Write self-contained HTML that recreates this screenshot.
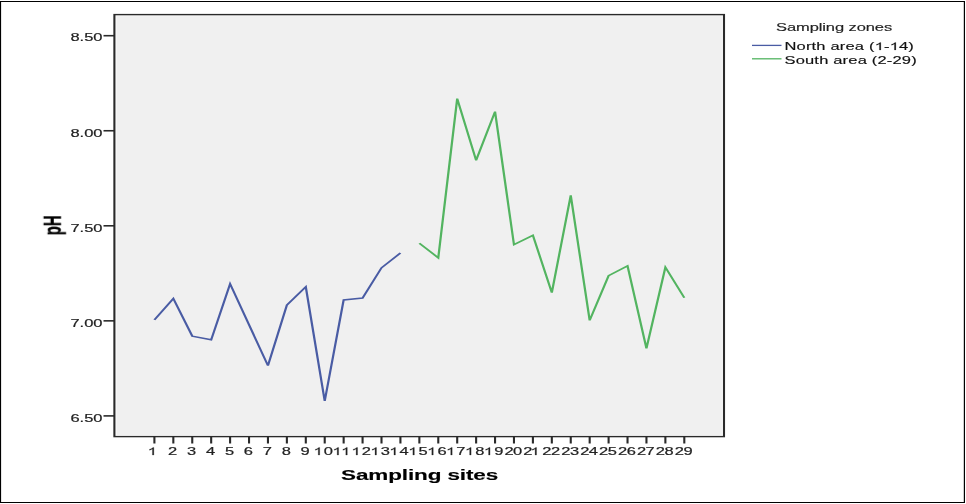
<!DOCTYPE html>
<html><head><meta charset="utf-8"><title>pH by sampling site</title>
<style>html,body{margin:0;padding:0;background:#fff;width:966px;height:504px;overflow:hidden}</style>
</head><body>
<svg width="966" height="504" viewBox="0 0 644 504" preserveAspectRatio="none" style="display:block;will-change:transform"><defs><path id="one" d="M763 0H583V1100Q518 1040 412 981Q306 922 222 892V1059Q373 1127 486 1224Q599 1321 646 1409H763Z"/><filter id="soft" x="-5%" y="-5%" width="110%" height="110%"><feGaussianBlur stdDeviation="0.3 0.45"/></filter></defs><rect x="0" y="0" width="644" height="504" fill="#fff"/><path d="M0 1.5H643.333M0 502.5H643.333" stroke="#000" stroke-width="1.15"/><path d="M0.333 1V503M642.933 1V503" stroke="#000" stroke-width="0.8"/><rect x="76.267" y="14.6" width="406.4" height="422.0" fill="#f0f0f0"/><rect x="77.167" y="15.7" width="404.59999999999997" height="419.8" fill="none" stroke="#fbfbfb" stroke-width="1"/><rect x="76.267" y="14.6" width="406.4" height="422.0" fill="none" stroke="#2a2a2a" stroke-width="1.4"/><line x1="69.0" y1="35.7" x2="76.267" y2="35.7" stroke="#2a2a2a" stroke-width="1.6"/><text x="46.924" y="41.5" font-size="11" fill="#222" stroke="#222" stroke-width="0.2" style="font-family:'Liberation Sans',sans-serif;font-kerning:none">8.50</text><line x1="69.0" y1="130.75" x2="76.267" y2="130.75" stroke="#2a2a2a" stroke-width="1.6"/><text x="46.924" y="136.55" font-size="11" fill="#222" stroke="#222" stroke-width="0.2" style="font-family:'Liberation Sans',sans-serif;font-kerning:none">8.00</text><line x1="69.0" y1="225.8" x2="76.267" y2="225.8" stroke="#2a2a2a" stroke-width="1.6"/><text x="46.924" y="231.6" font-size="11" fill="#222" stroke="#222" stroke-width="0.2" style="font-family:'Liberation Sans',sans-serif;font-kerning:none">7.50</text><line x1="69.0" y1="320.85" x2="76.267" y2="320.85" stroke="#2a2a2a" stroke-width="1.6"/><text x="46.924" y="326.65" font-size="11" fill="#222" stroke="#222" stroke-width="0.2" style="font-family:'Liberation Sans',sans-serif;font-kerning:none">7.00</text><line x1="69.0" y1="415.9" x2="76.267" y2="415.9" stroke="#2a2a2a" stroke-width="1.6"/><text x="46.924" y="421.7" font-size="11" fill="#222" stroke="#222" stroke-width="0.2" style="font-family:'Liberation Sans',sans-serif;font-kerning:none">6.50</text><line x1="102.933" y1="436.6" x2="102.933" y2="443.5" stroke="#2a2a2a" stroke-width="1.4"/><text x="99.474" y="454.6" font-size="11" fill="#222" stroke="#222" stroke-width="0.2" style="font-family:'Liberation Sans',sans-serif;font-kerning:none"> </text><use href="#one" transform="translate(98.474,455) scale(0.005371,-0.005371)" fill="#222" stroke="#222" stroke-width="37.2"/><line x1="115.55" y1="436.6" x2="115.55" y2="443.5" stroke="#2a2a2a" stroke-width="1.4"/><text x="112.091" y="454.6" font-size="11" fill="#222" stroke="#222" stroke-width="0.2" style="font-family:'Liberation Sans',sans-serif;font-kerning:none">2</text><line x1="128.167" y1="436.6" x2="128.167" y2="443.5" stroke="#2a2a2a" stroke-width="1.4"/><text x="124.708" y="454.6" font-size="11" fill="#222" stroke="#222" stroke-width="0.2" style="font-family:'Liberation Sans',sans-serif;font-kerning:none">3</text><line x1="140.783" y1="436.6" x2="140.783" y2="443.5" stroke="#2a2a2a" stroke-width="1.4"/><text x="137.324" y="454.6" font-size="11" fill="#222" stroke="#222" stroke-width="0.2" style="font-family:'Liberation Sans',sans-serif;font-kerning:none">4</text><line x1="153.4" y1="436.6" x2="153.4" y2="443.5" stroke="#2a2a2a" stroke-width="1.4"/><text x="149.941" y="454.6" font-size="11" fill="#222" stroke="#222" stroke-width="0.2" style="font-family:'Liberation Sans',sans-serif;font-kerning:none">5</text><line x1="166.017" y1="436.6" x2="166.017" y2="443.5" stroke="#2a2a2a" stroke-width="1.4"/><text x="162.558" y="454.6" font-size="11" fill="#222" stroke="#222" stroke-width="0.2" style="font-family:'Liberation Sans',sans-serif;font-kerning:none">6</text><line x1="178.633" y1="436.6" x2="178.633" y2="443.5" stroke="#2a2a2a" stroke-width="1.4"/><text x="175.174" y="454.6" font-size="11" fill="#222" stroke="#222" stroke-width="0.2" style="font-family:'Liberation Sans',sans-serif;font-kerning:none">7</text><line x1="191.25" y1="436.6" x2="191.25" y2="443.5" stroke="#2a2a2a" stroke-width="1.4"/><text x="187.791" y="454.6" font-size="11" fill="#222" stroke="#222" stroke-width="0.2" style="font-family:'Liberation Sans',sans-serif;font-kerning:none">8</text><line x1="203.867" y1="436.6" x2="203.867" y2="443.5" stroke="#2a2a2a" stroke-width="1.4"/><text x="200.408" y="454.6" font-size="11" fill="#222" stroke="#222" stroke-width="0.2" style="font-family:'Liberation Sans',sans-serif;font-kerning:none">9</text><line x1="216.483" y1="436.6" x2="216.483" y2="443.5" stroke="#2a2a2a" stroke-width="1.4"/><text x="210.140" y="454.6" font-size="11" fill="#222" stroke="#222" stroke-width="0.2" letter-spacing="-0.35" style="font-family:'Liberation Sans',sans-serif;font-kerning:none"> 0</text><use href="#one" transform="translate(209.040,455) scale(0.005371,-0.005371)" fill="#222" stroke="#222" stroke-width="37.2"/><line x1="229.1" y1="436.6" x2="229.1" y2="443.5" stroke="#2a2a2a" stroke-width="1.4"/><text x="222.757" y="454.6" font-size="11" fill="#222" stroke="#222" stroke-width="0.2" letter-spacing="-0.35" style="font-family:'Liberation Sans',sans-serif;font-kerning:none">  </text><use href="#one" transform="translate(221.657,455) scale(0.005371,-0.005371)" fill="#222" stroke="#222" stroke-width="37.2"/><use href="#one" transform="translate(227.425,455) scale(0.005371,-0.005371)" fill="#222" stroke="#222" stroke-width="37.2"/><line x1="241.717" y1="436.6" x2="241.717" y2="443.5" stroke="#2a2a2a" stroke-width="1.4"/><text x="235.374" y="454.6" font-size="11" fill="#222" stroke="#222" stroke-width="0.2" letter-spacing="-0.35" style="font-family:'Liberation Sans',sans-serif;font-kerning:none"> 2</text><use href="#one" transform="translate(234.274,455) scale(0.005371,-0.005371)" fill="#222" stroke="#222" stroke-width="37.2"/><line x1="254.333" y1="436.6" x2="254.333" y2="443.5" stroke="#2a2a2a" stroke-width="1.4"/><text x="247.990" y="454.6" font-size="11" fill="#222" stroke="#222" stroke-width="0.2" letter-spacing="-0.35" style="font-family:'Liberation Sans',sans-serif;font-kerning:none"> 3</text><use href="#one" transform="translate(246.890,455) scale(0.005371,-0.005371)" fill="#222" stroke="#222" stroke-width="37.2"/><line x1="266.95" y1="436.6" x2="266.95" y2="443.5" stroke="#2a2a2a" stroke-width="1.4"/><text x="260.607" y="454.6" font-size="11" fill="#222" stroke="#222" stroke-width="0.2" letter-spacing="-0.35" style="font-family:'Liberation Sans',sans-serif;font-kerning:none"> 4</text><use href="#one" transform="translate(259.507,455) scale(0.005371,-0.005371)" fill="#222" stroke="#222" stroke-width="37.2"/><line x1="279.567" y1="436.6" x2="279.567" y2="443.5" stroke="#2a2a2a" stroke-width="1.4"/><text x="273.224" y="454.6" font-size="11" fill="#222" stroke="#222" stroke-width="0.2" letter-spacing="-0.35" style="font-family:'Liberation Sans',sans-serif;font-kerning:none"> 5</text><use href="#one" transform="translate(272.124,455) scale(0.005371,-0.005371)" fill="#222" stroke="#222" stroke-width="37.2"/><line x1="292.183" y1="436.6" x2="292.183" y2="443.5" stroke="#2a2a2a" stroke-width="1.4"/><text x="285.840" y="454.6" font-size="11" fill="#222" stroke="#222" stroke-width="0.2" letter-spacing="-0.35" style="font-family:'Liberation Sans',sans-serif;font-kerning:none"> 6</text><use href="#one" transform="translate(284.740,455) scale(0.005371,-0.005371)" fill="#222" stroke="#222" stroke-width="37.2"/><line x1="304.8" y1="436.6" x2="304.8" y2="443.5" stroke="#2a2a2a" stroke-width="1.4"/><text x="298.457" y="454.6" font-size="11" fill="#222" stroke="#222" stroke-width="0.2" letter-spacing="-0.35" style="font-family:'Liberation Sans',sans-serif;font-kerning:none"> 7</text><use href="#one" transform="translate(297.357,455) scale(0.005371,-0.005371)" fill="#222" stroke="#222" stroke-width="37.2"/><line x1="317.417" y1="436.6" x2="317.417" y2="443.5" stroke="#2a2a2a" stroke-width="1.4"/><text x="311.074" y="454.6" font-size="11" fill="#222" stroke="#222" stroke-width="0.2" letter-spacing="-0.35" style="font-family:'Liberation Sans',sans-serif;font-kerning:none"> 8</text><use href="#one" transform="translate(309.974,455) scale(0.005371,-0.005371)" fill="#222" stroke="#222" stroke-width="37.2"/><line x1="330.033" y1="436.6" x2="330.033" y2="443.5" stroke="#2a2a2a" stroke-width="1.4"/><text x="323.690" y="454.6" font-size="11" fill="#222" stroke="#222" stroke-width="0.2" letter-spacing="-0.35" style="font-family:'Liberation Sans',sans-serif;font-kerning:none"> 9</text><use href="#one" transform="translate(322.590,455) scale(0.005371,-0.005371)" fill="#222" stroke="#222" stroke-width="37.2"/><line x1="342.65" y1="436.6" x2="342.65" y2="443.5" stroke="#2a2a2a" stroke-width="1.4"/><text x="336.307" y="454.6" font-size="11" fill="#222" stroke="#222" stroke-width="0.2" letter-spacing="-0.35" style="font-family:'Liberation Sans',sans-serif;font-kerning:none">20</text><line x1="355.267" y1="436.6" x2="355.267" y2="443.5" stroke="#2a2a2a" stroke-width="1.4"/><text x="348.924" y="454.6" font-size="11" fill="#222" stroke="#222" stroke-width="0.2" letter-spacing="-0.35" style="font-family:'Liberation Sans',sans-serif;font-kerning:none">2 </text><use href="#one" transform="translate(353.592,455) scale(0.005371,-0.005371)" fill="#222" stroke="#222" stroke-width="37.2"/><line x1="367.883" y1="436.6" x2="367.883" y2="443.5" stroke="#2a2a2a" stroke-width="1.4"/><text x="361.540" y="454.6" font-size="11" fill="#222" stroke="#222" stroke-width="0.2" letter-spacing="-0.35" style="font-family:'Liberation Sans',sans-serif;font-kerning:none">22</text><line x1="380.5" y1="436.6" x2="380.5" y2="443.5" stroke="#2a2a2a" stroke-width="1.4"/><text x="374.157" y="454.6" font-size="11" fill="#222" stroke="#222" stroke-width="0.2" letter-spacing="-0.35" style="font-family:'Liberation Sans',sans-serif;font-kerning:none">23</text><line x1="393.117" y1="436.6" x2="393.117" y2="443.5" stroke="#2a2a2a" stroke-width="1.4"/><text x="386.774" y="454.6" font-size="11" fill="#222" stroke="#222" stroke-width="0.2" letter-spacing="-0.35" style="font-family:'Liberation Sans',sans-serif;font-kerning:none">24</text><line x1="405.733" y1="436.6" x2="405.733" y2="443.5" stroke="#2a2a2a" stroke-width="1.4"/><text x="399.390" y="454.6" font-size="11" fill="#222" stroke="#222" stroke-width="0.2" letter-spacing="-0.35" style="font-family:'Liberation Sans',sans-serif;font-kerning:none">25</text><line x1="418.35" y1="436.6" x2="418.35" y2="443.5" stroke="#2a2a2a" stroke-width="1.4"/><text x="412.007" y="454.6" font-size="11" fill="#222" stroke="#222" stroke-width="0.2" letter-spacing="-0.35" style="font-family:'Liberation Sans',sans-serif;font-kerning:none">26</text><line x1="430.967" y1="436.6" x2="430.967" y2="443.5" stroke="#2a2a2a" stroke-width="1.4"/><text x="424.624" y="454.6" font-size="11" fill="#222" stroke="#222" stroke-width="0.2" letter-spacing="-0.35" style="font-family:'Liberation Sans',sans-serif;font-kerning:none">27</text><line x1="443.583" y1="436.6" x2="443.583" y2="443.5" stroke="#2a2a2a" stroke-width="1.4"/><text x="437.240" y="454.6" font-size="11" fill="#222" stroke="#222" stroke-width="0.2" letter-spacing="-0.35" style="font-family:'Liberation Sans',sans-serif;font-kerning:none">28</text><line x1="456.2" y1="436.6" x2="456.2" y2="443.5" stroke="#2a2a2a" stroke-width="1.4"/><text x="449.857" y="454.6" font-size="11" fill="#222" stroke="#222" stroke-width="0.2" letter-spacing="-0.35" style="font-family:'Liberation Sans',sans-serif;font-kerning:none">29</text><text x="279.733" y="479.7" text-anchor="middle" font-size="15" font-weight="bold" fill="#000" stroke="#000" stroke-width="0.15" letter-spacing="-0.08" style="font-family:'Liberation Sans',sans-serif;font-kerning:none">Sampling sites</text><text transform="translate(40.2,225.3) rotate(-90) scale(0.91,1)" x="0" y="0" text-anchor="middle" font-size="16.5" font-weight="bold" fill="#000" stroke="#000" stroke-width="0.25" style="font-family:'Liberation Sans',sans-serif;font-kerning:none">pH</text><polyline points="102.933,319.8 115.55,298.5 128.167,336.1 140.783,339.8 153.4,283.9 166.017,324.75 178.633,365.6 191.25,305.0 203.867,286.8 216.483,401.0 229.1,300.0 241.717,298.0 254.333,267.8 266.95,252.9" fill="none" stroke="#4a5ca4" stroke-width="1.5" stroke-linejoin="miter" stroke-linecap="butt" filter="url(#soft)"/><polyline points="279.567,243.3 292.183,257.8 304.8,98.6 317.417,160.3 330.033,111.6 342.65,244.7 355.267,235.3 367.883,292.6 380.5,195.3 393.117,320.4 405.733,275.7 418.35,265.8 430.967,348.3 443.583,267.3 456.2,297.8" fill="none" stroke="#52b460" stroke-width="1.5" stroke-linejoin="miter" stroke-linecap="butt" filter="url(#soft)"/><text x="517.333" y="31" font-size="11" fill="#222" stroke="#222" stroke-width="0.15" letter-spacing="-0.06" style="font-family:'Liberation Sans',sans-serif;font-kerning:none">Sampling zones</text><line x1="501.333" y1="45.4" x2="521.0" y2="45.4" stroke="#4a5ca4" stroke-width="1.3"/><line x1="501.333" y1="58.8" x2="521.0" y2="58.8" stroke="#52b460" stroke-width="1.3"/><text x="523.000" y="49.8" font-size="11" fill="#111" stroke="#111" stroke-width="0.15" letter-spacing="0.12" style="font-family:'Liberation Sans',sans-serif;font-kerning:none">North area ( - 4)</text><use href="#one" transform="translate(583.130,50) scale(0.005371,-0.005371)" fill="#111" stroke="#111" stroke-width="27.9"/><use href="#one" transform="translate(593.151,50) scale(0.005371,-0.005371)" fill="#111" stroke="#111" stroke-width="27.9"/><text x="523.000" y="64.1" font-size="11" fill="#111" stroke="#111" stroke-width="0.15" letter-spacing="0.12" style="font-family:'Liberation Sans',sans-serif;font-kerning:none">South area (2-29)</text></svg>
</body></html>
